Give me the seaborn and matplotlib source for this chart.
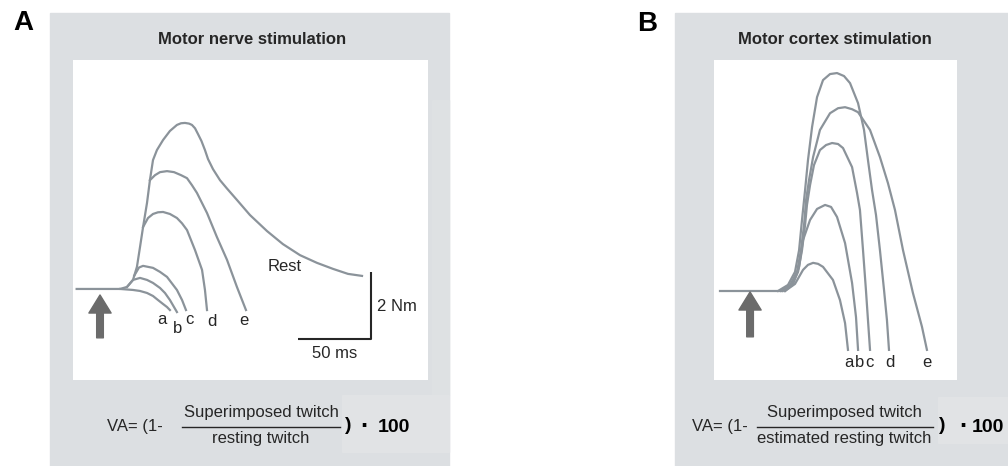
import matplotlib

matplotlib.use("Agg")
import matplotlib.pyplot as plt
import pandas as pd
import seaborn as sns
from matplotlib.lines import Line2D
from matplotlib.patches import Rectangle

# panel A: motor nerve stimulation (time in ms from stimulus, torque in Nm)
a_rest_t = [-16, 13.7, 18.5, 22.6, 25.3, 27.4, 29.5, 32.2, 34.2, 36.3, 39.0,
            43.2, 47.9, 52.7, 55.5, 58.2, 61.0, 63.0, 65.1, 67.1, 69.5, 71.9,
            74.0, 77.4, 82.2, 87.0, 93.8, 102.7, 114.4, 125.3, 137.0, 148.6,
            159.6, 169.9, 179.5]
a_rest_f = [0, 0, 0.06, 0.27, 0.66, 1.25, 1.85, 2.57, 3.25, 3.85, 4.15,
            4.45, 4.72, 4.90, 4.95, 4.96, 4.94, 4.90, 4.80, 4.63, 4.42, 4.15,
            3.88, 3.58, 3.25, 3.00, 2.66, 2.21, 1.73, 1.34, 1.01, 0.78,
            0.60, 0.45, 0.39]
a_e_t = [34.2, 37.7, 41.1, 45.9, 50.7, 55.5, 59.6, 63.0, 66.4, 73.3, 80.1,
         87.0, 93.8, 100.0]
a_e_f = [3.25, 3.40, 3.49, 3.52, 3.49, 3.40, 3.31, 3.10, 2.87, 2.27, 1.55,
         0.87, 0.06, -0.63]
a_d_t = [29.5, 32.9, 36.3, 39.7, 43.2, 47.9, 52.7, 56.2, 59.6, 65.1, 69.9,
         71.9, 73.3]
a_d_f = [1.85, 2.12, 2.24, 2.29, 2.30, 2.24, 2.12, 1.96, 1.76, 1.16, 0.57,
         -0.03, -0.63]
a_c_t = [23.5, 26.7, 29.5, 36.3, 41.1, 45.9, 52.7, 56.2, 58.9]
a_c_f = [0.40, 0.64, 0.69, 0.63, 0.51, 0.36, -0.03, -0.33, -0.63]
a_b_t = [18.5, 22.6, 27.4, 32.2, 36.3, 41.1, 44.5, 47.9, 50.7, 52.7]
a_b_f = [0.06, 0.27, 0.33, 0.27, 0.18, 0.03, -0.12, -0.33, -0.54, -0.69]
a_a_t = [13.7, 22.6, 27.4, 32.2, 36.3, 39.7, 43.2, 45.9, 47.9]
a_a_f = [0, -0.03, -0.06, -0.12, -0.21, -0.33, -0.45, -0.54, -0.63]

a_letters = ["a", "b", "c", "d", "e"]
a_letter_t = [42.5, 53.4, 61.0, 76.7, 98.6]
a_letter_f = [-0.90, -1.19, -0.90, -0.96, -0.93]
a_scale_t = [135.6, 185.6, 185.6]
a_scale_f = [-1.49, -1.49, 0.51]

# panel B: motor cortex stimulation
b_base_t = [-20.5, 22.0]
b_base_f = [0, 0]
b_d_t = [19.2, 26.0, 30.8, 33.6, 35.6, 37.7, 39.7, 42.5, 45.9, 50.0, 54.8,
         59.6, 64.4, 68.5, 74.0, 78.1, 80.8, 83.6, 86.3, 89.0, 91.8, 93.8, 95.2]
b_d_f = [0, 0.18, 0.57, 1.22, 2.12, 3.01, 3.91, 4.90, 5.79, 6.30, 6.48,
         6.51, 6.42, 6.21, 5.61, 4.81, 3.91, 3.01, 2.27, 1.22, 0.03, -0.87, -1.76]
b_e_t = [21.2, 27.4, 32.2, 34.9, 37.0, 38.4, 40.4, 43.2, 47.9, 54.8, 60.3,
         65.1, 69.9, 74.0, 82.2, 89.0, 94.5, 99.3, 104.8, 111.6, 117.8, 121.2]
b_e_f = [0, 0.18, 0.57, 1.22, 1.97, 2.72, 3.31, 4.00, 4.81, 5.31, 5.46,
         5.49, 5.43, 5.34, 4.81, 4.00, 3.22, 2.42, 1.22, -0.06, -1.07, -1.76]
b_c_t = [22.6, 28.8, 32.9, 35.6, 37.7, 39.0, 41.1, 43.8, 47.9, 52.1, 56.2,
         60.3, 63.7, 69.9, 73.3, 75.3, 77.4, 79.4, 80.8, 82.2]
b_c_f = [0, 0.18, 0.57, 1.22, 1.97, 2.57, 3.16, 3.76, 4.21, 4.36, 4.42,
         4.39, 4.27, 3.70, 2.93, 2.42, 1.22, 0.03, -0.87, -1.76]
b_b_t = [24.0, 29.5, 33.6, 36.3, 41.1, 45.9, 51.4, 55.5, 59.6, 65.1, 69.9,
         72.6, 74.0]
b_b_f = [0, 0.21, 0.72, 1.52, 2.12, 2.45, 2.57, 2.51, 2.21, 1.43, 0.24,
         -0.78, -1.76]
b_a_t = [24.0, 30.8, 36.3, 39.7, 43.2, 46.6, 50.0, 56.8, 61.6, 65.1, 67.1]
b_a_f = [0, 0.21, 0.63, 0.78, 0.84, 0.81, 0.72, 0.33, -0.27, -0.96, -1.76]

b_letters = ["a", "b", "c", "d", "e"]
b_letter_t = [67.8, 75.3, 81.5, 95.9, 121.2]
b_letter_f = [-2.15, -2.15, -2.15, -2.15, -2.15]

LINE = "#8b939a"
GREY_BG = "#dcdfe2"
ARROW = "#6b6b6b"
INK = "#262626"
FS = 12

plt.rcParams["font.family"] = ["Liberation Sans", "DejaVu Sans"]

W, H = 1008, 466
fig = plt.figure(figsize=(W / 100, H / 100), dpi=100)
fig.patch.set_facecolor("white")


def px(x, y):
    return x / W, 1 - y / H


def rect(x0, y0, x1, y1, color):
    fig.patches.append(Rectangle(px(x0, y1), (x1 - x0) / W, (y1 - y0) / H,
                                 transform=fig.transFigure, color=color,
                                 zorder=-10))


# grey panels and a few lighter patches as in the scan
rect(50, 13, 449, 466, GREY_BG)
rect(432, 100, 449, 395, "#dee1e3")
rect(342, 395, 449, 452, "#e1e3e5")
rect(675, 13, 1008, 466, GREY_BG)
rect(938, 397, 1008, 443, "#e1e3e5")


def to_frame(curves):
    rows = []
    for name, (t, f) in curves.items():
        rows.append(pd.DataFrame({"t": t, "f": f, "curve": name}))
    return pd.concat(rows, ignore_index=True)


def arrow(ax, t, f0, f1):
    ax.annotate("", xy=(t, f1), xytext=(t, f0),
                arrowprops=dict(arrowstyle="simple,head_length=0.65,"
                                "head_width=0.8,tail_width=0.24",
                                mutation_scale=20, color=ARROW,
                                shrinkA=0, shrinkB=0))


def white_panel(ax):
    ax.set_facecolor("white")
    ax.set_xticks([])
    ax.set_yticks([])
    ax.set_xlabel("")
    ax.set_ylabel("")
    for sp in ax.spines.values():
        sp.set_visible(False)


# ---- panel A
ax_a = fig.add_axes([73 / W, 1 - 380 / H, 355 / W, 320 / H])
df_a = to_frame({"rest": (a_rest_t, a_rest_f), "e": (a_e_t, a_e_f),
                 "d": (a_d_t, a_d_f), "c": (a_c_t, a_c_f),
                 "b": (a_b_t, a_b_f), "a": (a_a_t, a_a_f)})
sns.lineplot(data=df_a, x="t", y="f", units="curve", estimator=None,
             sort=False, color=LINE, lw=1.6, solid_joinstyle="round",
             ax=ax_a)
ax_a.plot(a_scale_t, a_scale_f, color=INK, lw=1.5, solid_capstyle="butt")
for s, t, f in zip(a_letters, a_letter_t, a_letter_f):
    ax_a.text(t, f, s, ha="center", va="center", fontsize=FS, color=INK)
ax_a.text(126.7, 0.66, "Rest", ha="center", va="center", fontsize=FS,
          color=INK)
ax_a.text(189.7, -0.51, "2 Nm", ha="left", va="center", fontsize=FS,
          color=INK)
ax_a.text(160.6, -1.94, "50 ms", ha="center", va="center", fontsize=FS,
          color=INK)
arrow(ax_a, 0, -1.46, -0.18)
ax_a.set_xlim(-18.5, 224.7)
ax_a.set_ylim(-2.72, 6.84)
white_panel(ax_a)

# ---- panel B
ax_b = fig.add_axes([714 / W, 1 - 380 / H, 243 / W, 320 / H])
df_b = to_frame({"base": (b_base_t, b_base_f), "e": (b_e_t, b_e_f),
                 "d": (b_d_t, b_d_f), "c": (b_c_t, b_c_f),
                 "b": (b_b_t, b_b_f), "a": (b_a_t, b_a_f)})
sns.lineplot(data=df_b, x="t", y="f", units="curve", estimator=None,
             sort=False, color=LINE, lw=1.6, solid_joinstyle="round",
             ax=ax_b)
for s, t, f in zip(b_letters, b_letter_t, b_letter_f):
    ax_b.text(t, f, s, ha="center", va="center", fontsize=FS, color=INK)
arrow(ax_b, 0, -1.37, -0.03)
ax_b.set_xlim(-24.7, 141.8)
ax_b.set_ylim(-2.66, 6.90)
white_panel(ax_b)

# ---- labels, titles and formulas
fig.text(*px(23, 23), "A", ha="center", va="center", fontsize=20,
         weight="bold", color="black")
fig.text(*px(647, 24), "B", ha="center", va="center", fontsize=20,
         weight="bold", color="black")
fig.text(*px(252, 40), "Motor nerve stimulation", ha="center", va="center",
         fontsize=12, weight="bold", color=INK)
fig.text(*px(835, 40), "Motor cortex stimulation", ha="center", va="center",
         fontsize=12, weight="bold", color=INK)


def formula(x_va, x_frac, x0, x1, denom, x_par, x_dot, x_100):
    y = 427
    fig.text(*px(x_va, y), "VA= (1-", ha="left", va="center", fontsize=FS,
             color=INK)
    fig.text(*px(x_frac, 413), "Superimposed twitch", ha="center",
             va="center", fontsize=FS, color=INK)
    fig.text(*px(x_frac, 438), denom, ha="center", va="center",
             fontsize=FS, color=INK)
    fig.add_artist(Line2D([x0 / W, x1 / W], [1 - y / H] * 2, color=INK,
                          lw=1.0, transform=fig.transFigure))
    fig.text(*px(x_par, y - 1), ")", ha="center", va="center", fontsize=14,
             weight="bold", color="black")
    fig.text(*px(x_dot, y), "\u00b7", ha="center", va="center", fontsize=18,
             weight="bold", color="black")
    fig.text(*px(x_100, y), "100", ha="center", va="center", fontsize=14,
             weight="bold", color="black")


formula(107, 261, 182, 340, "resting twitch", 348, 364, 394)
formula(692, 844, 757, 933, "estimated resting twitch", 942, 963, 988)

fig.savefig("out.png", dpi=100)
